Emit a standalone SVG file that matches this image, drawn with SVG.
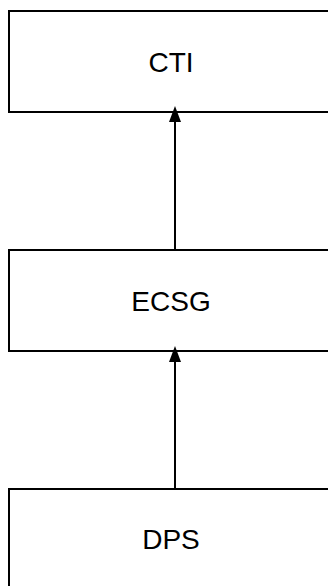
<svg xmlns="http://www.w3.org/2000/svg" width="328" height="586" viewBox="0 0 328 586">
<style>
.box{fill:#fff;stroke:#000;stroke-width:2}
.lbl{font-family:"Liberation Sans",Arial,sans-serif;font-size:28px;fill:#000;text-anchor:middle}
.edge{stroke:#000;stroke-width:2;fill:none}
.head{fill:#000}
</style>
<rect width="328" height="586" fill="#fff"/>
<g id="node-cti">
<rect class="box" x="9" y="11" width="332" height="101"/>
<text class="lbl" x="171" y="72">CTI</text>
</g>
<g id="node-ecsg">
<rect class="box" x="9" y="250" width="332" height="101"/>
<text class="lbl" x="171" y="311">ECSG</text>
</g>
<g id="node-dps">
<rect class="box" x="9" y="489" width="332" height="101"/>
<text class="lbl" x="171" y="549">DPS</text>
</g>
<g id="connectors">
<line class="edge" x1="175" y1="250" x2="175" y2="120"/>
<polygon class="head" points="175,106 169,122 181,122"/>
<line class="edge" x1="175" y1="489" x2="175" y2="360"/>
<polygon class="head" points="175,346 169,362 181,362"/>
</g>
</svg>
